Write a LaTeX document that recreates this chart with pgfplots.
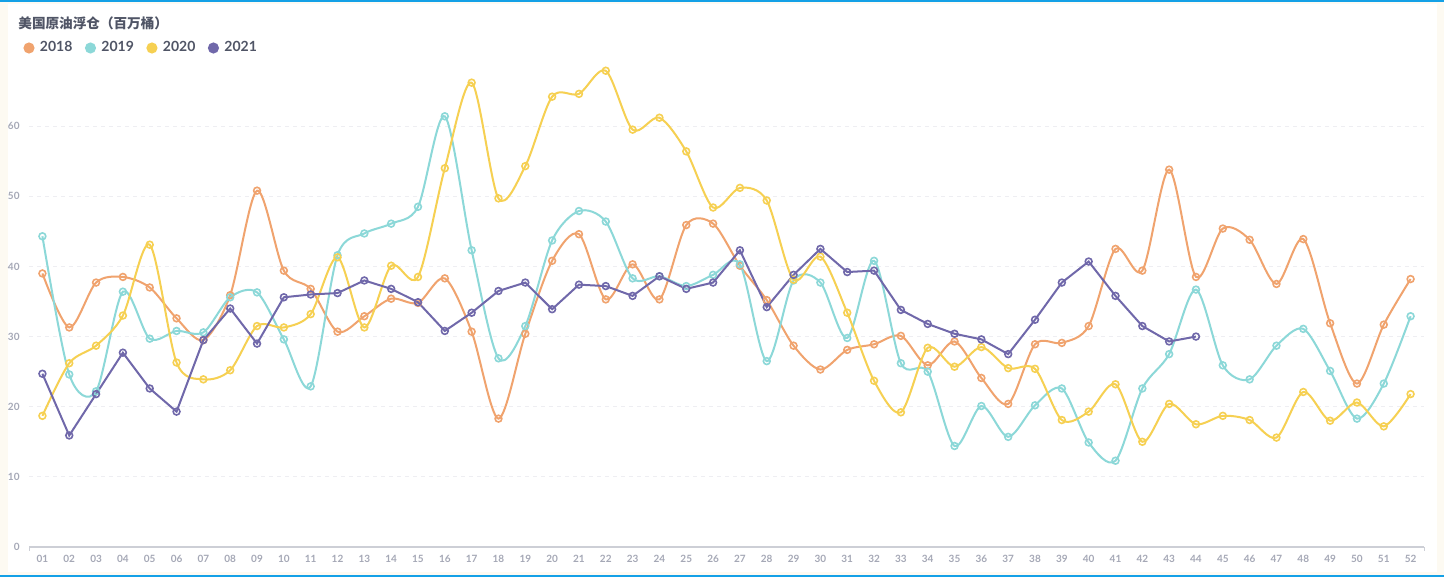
\documentclass[border=0pt]{standalone}
\usepackage{pgfplots}
\pgfplotsset{compat=1.18}
\usepackage{fontspec}
\setmainfont{Lato}
\newfontfamily\lato{Lato}
\newfontfamily\cjk{Noto Sans CJK SC}

\definecolor{c2018}{RGB}{240,163,110}
\definecolor{c2019}{RGB}{140,216,216}
\definecolor{c2020}{RGB}{246,208,82}
\definecolor{c2021}{RGB}{112,104,170}
\definecolor{titlegray}{RGB}{80,85,102}
\definecolor{tickgray}{RGB}{165,168,182}
\definecolor{gridgray}{RGB}{238,238,242}
\definecolor{axisgray}{RGB}{205,207,214}
\definecolor{frameblue}{RGB}{20,160,230}
\definecolor{cream}{RGB}{253,250,242}

\begin{document}
\begin{tikzpicture}
% page and frame
\path[use as bounding box, fill=cream] (0,0) rectangle (722pt,288.5pt);
\fill[white] (4pt,2.5pt) rectangle (718.5pt,286.5pt);
\draw[frameblue, line width=1pt] (0,287.8pt) -- (722pt,287.8pt);
\draw[frameblue, line width=1pt] (0,0.7pt) -- (722pt,0.7pt);

\node[anchor=west, inner sep=0pt, text=titlegray, font=\fontsize{6.8}{8}\selectfont\cjk\bfseries]
  at (9pt,276.6pt) {美国原油浮仓（百万桶）};

\begin{axis}[
  at={(14.5pt,15pt)}, anchor=south west,
  scale only axis,
  width=697.5pt, height=245.5pt,
  xmin=0.5, xmax=52.5,
  ymin=0, ymax=70,
  clip=false,
  xtick={1,...,52},
  xticklabels={01,02,03,04,05,06,07,08,09,10,11,12,13,14,15,16,17,18,19,20,
    21,22,23,24,25,26,27,28,29,30,31,32,33,34,35,36,37,38,39,40,
    41,42,43,44,45,46,47,48,49,50,51,52},
  ytick={0,10,...,60},
  major tick length=0pt,
  extra x ticks={0.5,52.5},
  extra x tick labels={},
  extra x tick style={major tick length=2pt, tick align=outside, tick style={draw=axisgray, line width=0.5pt}},
  axis x line*=bottom,
  axis y line*=left,
  x axis line style={draw=axisgray, line width=0.6pt, -},
  y axis line style={draw=none},
  ymajorgrids,
  major grid style={draw=gridgray, dash pattern=on 2pt off 2pt, line width=0.5pt},
  /pgf/number format/assume math mode=true,
  tick label style={font=\fontsize{5}{6}\selectfont\lato\bfseries, text=tickgray},
  xticklabel style={inner sep=0pt, yshift=-4pt},
  yticklabel style={inner sep=0pt, xshift=-4.5pt},
  every axis plot/.append style={line width=1pt},
  legend columns=4,
  legend style={at={(0,1)}, anchor=west, xshift=-2.75pt, yshift=4pt,
    draw=none, fill=none, inner sep=0pt, outer sep=0pt,
    font=\fontsize{7}{8}\selectfont\lato\bfseries, text=titlegray,
    nodes={inner sep=0pt},
    /tikz/every odd column/.append style={column sep=2.75pt},
    /tikz/every even column/.append style={column sep=6.25pt}},
]

% 2018
\addplot[c2018, smooth, mark=o, mark size=1.7pt,
  mark options={fill=white, line width=0.8pt}, forget plot] coordinates {
(1,39.0) (2,31.3) (3,37.7) (4,38.5) (5,37.0) (6,32.6) (7,29.5) (8,35.9) (9,50.8) (10,39.4)
(11,36.8) (12,30.7) (13,32.9) (14,35.4) (15,34.8) (16,38.3) (17,30.7) (18,18.3) (19,30.4) (20,40.8)
(21,44.6) (22,35.3) (23,40.3) (24,35.3) (25,45.9) (26,46.1) (27,40.1) (28,35.2) (29,28.7) (30,25.3)
(31,28.1) (32,28.9) (33,30.1) (34,25.9) (35,29.3) (36,24.1) (37,20.4) (38,28.9) (39,29.1) (40,31.5)
(41,42.5) (42,39.4) (43,53.8) (44,38.5) (45,45.4) (46,43.8) (47,37.5) (48,43.9) (49,31.9) (50,23.3)
(51,31.7) (52,38.2)};

% 2019
\addplot[c2019, smooth, mark=o, mark size=1.7pt,
  mark options={fill=white, line width=0.8pt}, forget plot] coordinates {
(1,44.3) (2,24.6) (3,22.2) (4,36.4) (5,29.7) (6,30.8) (7,30.6) (8,35.6) (9,36.3) (10,29.6)
(11,22.9) (12,41.6) (13,44.7) (14,46.1) (15,48.5) (16,61.4) (17,42.3) (18,26.9) (19,31.5) (20,43.7)
(21,47.9) (22,46.4) (23,38.3) (24,38.6) (25,37.2) (26,38.8) (27,40.3) (28,26.5) (29,38.0) (30,37.7)
(31,29.8) (32,40.8) (33,26.2) (34,25.0) (35,14.4) (36,20.1) (37,15.7) (38,20.2) (39,22.6) (40,14.9)
(41,12.3) (42,22.6) (43,27.5) (44,36.7) (45,25.9) (46,23.9) (47,28.7) (48,31.1) (49,25.1) (50,18.3)
(51,23.3) (52,32.9)};

% 2020
\addplot[c2020, smooth, mark=o, mark size=1.7pt,
  mark options={fill=white, line width=0.8pt}, forget plot] coordinates {
(1,18.7) (2,26.2) (3,28.7) (4,33.0) (5,43.1) (6,26.3) (7,23.9) (8,25.2) (9,31.5) (10,31.3)
(11,33.2) (12,41.3) (13,31.3) (14,40.1) (15,38.5) (16,54.0) (17,66.2) (18,49.7) (19,54.3) (20,64.2)
(21,64.6) (22,67.9) (23,59.5) (24,61.2) (25,56.4) (26,48.4) (27,51.2) (28,49.4) (29,38.1) (30,41.4)
(31,33.4) (32,23.7) (33,19.2) (34,28.4) (35,25.7) (36,28.5) (37,25.5) (38,25.4) (39,18.1) (40,19.3)
(41,23.2) (42,15.0) (43,20.4) (44,17.5) (45,18.7) (46,18.1) (47,15.6) (48,22.1) (49,18.0) (50,20.6)
(51,17.2) (52,21.8)};

% 2021
\addplot[c2021, sharp plot, mark=o, mark size=1.7pt,
  mark options={fill=white, line width=0.8pt}, forget plot] coordinates {
(1,24.7) (2,15.9) (3,21.8) (4,27.7) (5,22.6) (6,19.3) (7,29.5) (8,34.0) (9,29.0) (10,35.6)
(11,36.0) (12,36.2) (13,38.0) (14,36.8) (15,34.9) (16,30.8) (17,33.4) (18,36.5) (19,37.7) (20,33.9)
(21,37.4) (22,37.2) (23,35.8) (24,38.6) (25,36.8) (26,37.7) (27,42.3) (28,34.2) (29,38.8) (30,42.5)
(31,39.2) (32,39.4) (33,33.8) (34,31.8) (35,30.4) (36,29.6) (37,27.5) (38,32.4) (39,37.7) (40,40.7)
(41,35.8) (42,31.5) (43,29.3) (44,30.0)};

\addlegendimage{legend image code/.code={\fill[c2018] (2.25pt,0pt) circle (2.25pt);}}
\addlegendimage{legend image code/.code={\fill[c2019] (2.25pt,0pt) circle (2.25pt);}}
\addlegendimage{legend image code/.code={\fill[c2020] (2.25pt,0pt) circle (2.25pt);}}
\addlegendimage{legend image code/.code={\fill[c2021] (2.25pt,0pt) circle (2.25pt);}}
\legend{2018,2019,2020,2021}
\end{axis}
\end{tikzpicture}
\end{document}
